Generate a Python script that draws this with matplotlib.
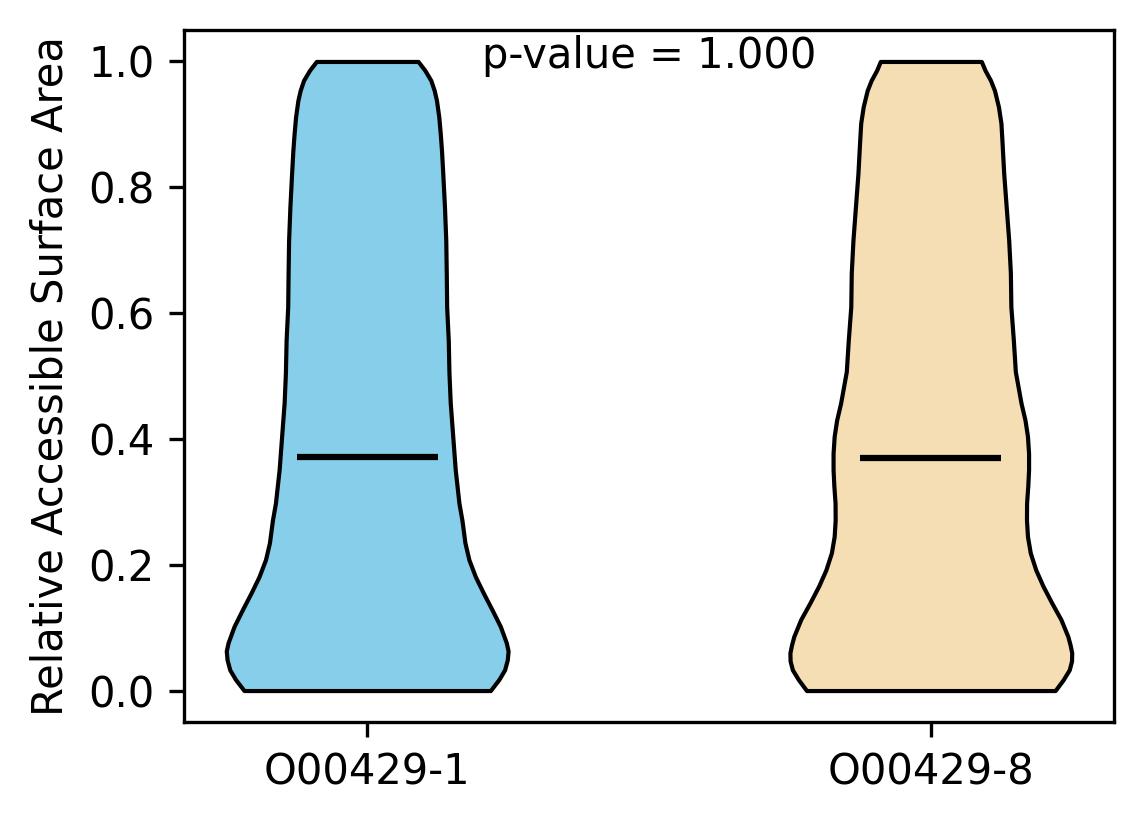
import numpy as np
import matplotlib
matplotlib.use('Agg')
import matplotlib.pyplot as plt

# groups and colours
groups = ['O00429-1', 'O00429-8']
colors = ['skyblue', 'wheat']
means = [0.372, 0.370]
p_value = 1.000

# density profile (RSA value, relative density)
rsa_1 = [0.0, 0.0175, 0.033, 0.049, 0.063, 0.076, 0.102, 0.129, 0.155, 0.181,
         0.208, 0.235, 0.271, 0.298, 0.351, 0.404, 0.457, 0.505, 0.557, 0.610,
         0.664, 0.716, 0.769, 0.822, 0.859, 0.885, 0.912, 0.938, 0.954, 0.970,
         0.986, 1.0]
dens_1 = [123.5, 132, 137.8, 140.5, 141.3, 139.5, 133.5, 125, 116.5, 108.5,
          102, 98, 95, 92, 88.3, 85.8, 83.3, 82, 81.3, 79.7,
          79.3, 78.8, 77.5, 75.8, 74.5, 73.3, 71.8, 69.5, 67.2, 63.8,
          57.8, 51]

rsa_8 = [0.0, 0.017, 0.033, 0.047, 0.060, 0.073, 0.086, 0.113, 0.139, 0.166,
         0.192, 0.219, 0.245, 0.271, 0.298, 0.325, 0.351, 0.377, 0.404, 0.430,
         0.457, 0.507, 0.557, 0.610, 0.664, 0.716, 0.769, 0.822, 0.875, 0.902,
         0.928, 0.954, 0.970, 0.986, 1.0]
dens_8 = [125, 133, 139.2, 141.5, 141.7, 140, 137.8, 130.8, 121.7, 112.8,
          105.5, 100, 97.2, 96.2, 96.3, 97.5, 98.3, 98.3, 97.2, 94.7,
          90.7, 85, 83, 80.5, 80, 78.3, 75.8, 73.3, 71.5, 70.5,
          68, 64, 60, 54.5, 50.8]

profiles = [(rsa_1, dens_1), (rsa_8, dens_8)]

vpstats = []
for (ys, ds), m in zip(profiles, means):
    ys = np.array(ys)
    vpstats.append({'coords': ys, 'vals': np.array(ds, dtype=float),
                    'mean': m, 'median': m, 'min': ys.min(), 'max': ys.max()})

fig = plt.figure(figsize=(1144 / 300, 824 / 300), dpi=300)
ax = fig.add_axes([184 / 1144, 1 - 722 / 824, (1114 - 184) / 1144, (722 - 30) / 824])

parts = ax.violin(vpstats, positions=[1, 2], widths=0.5,
                  showmeans=True, showextrema=False, showmedians=False)
for body, c in zip(parts['bodies'], colors):
    body.set_facecolor(c)
    body.set_edgecolor('black')
    body.set_linewidth(1.0)
    body.set_alpha(1)
parts['cmeans'].set_color('black')
parts['cmeans'].set_linewidth(1.5)

ax.set_xticks([1, 2])
ax.set_xticklabels(groups)
ax.set_ylabel('Relative Accessible Surface Area')
ax.text(1.5, 0.989, f'p-value = {p_value:.3f}', ha='center', va='baseline', fontsize=10)

fig.savefig('out.png', dpi=300)
